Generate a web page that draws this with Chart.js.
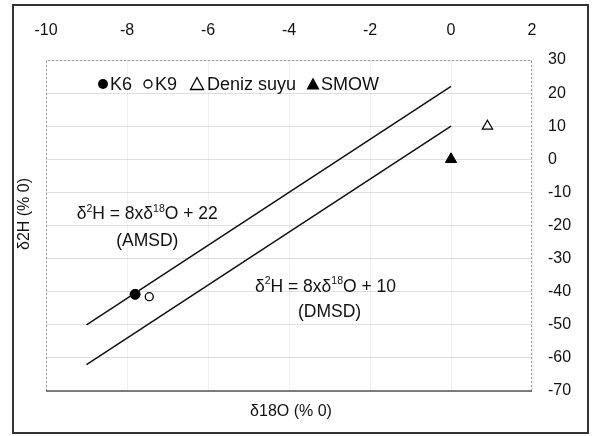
<!DOCTYPE html>
<html>
<head>
<meta charset="utf-8">
<script src="https://cdn.jsdelivr.net/npm/chart.js@4.4.1/dist/chart.umd.min.js"></script>
<style>
  html, body { margin: 0; padding: 0; background: #fff; }
  #wrap { width: 594px; height: 436px; }
</style>
</head>
<body>
<div id="wrap"><canvas id="grafik" width="594" height="436"></canvas></div>
<script>
// eksenler
const xMin = -10, xMax = 2, xStep = 2;
const yMin = -70, yMax = 30, yStep = 10;

// meteorik su dogrulari (iki uc nokta)
const lineX = [-9, 0];
const amsdY = [-50, 22];
const dmsdY = [-62, 10];

// ornekler
const k6 = [{ x: -7.8, y: -40.8 }];
const k9 = [{ x: -7.45, y: -41.5 }];
const denizSuyu = [{ x: 0.9, y: 10 }];
const smow = [{ x: 0, y: 0 }];

const FONT = "'Liberation Sans', Arial, sans-serif";

const toPts = (xs, ys) => xs.map((x, i) => ({ x: x, y: ys[i] }));

// legend icinde: sembol + yazi
const legendItems = [
  { sym: 'dot', text: 'K6', sx: 103, tx: 110 },
  { sym: 'ring', text: 'K9', sx: 148, tx: 155 },
  { sym: 'tri', text: 'Deniz suyu', sx: 197, tx: 207 },
  { sym: 'triFill', text: 'SMOW', sx: 313, tx: 321 }
];

function symbol(ctx, kind, x, y) {
  ctx.save();
  ctx.lineWidth = 1.3;
  ctx.strokeStyle = '#000';
  ctx.fillStyle = '#000';
  ctx.beginPath();
  if (kind === 'dot' || kind === 'ring') {
    ctx.arc(x, y, kind === 'dot' ? 5 : 4, 0, Math.PI * 2);
  } else {
    ctx.moveTo(x, y - 6.5);
    ctx.lineTo(x + 6.5, y + 5.5);
    ctx.lineTo(x - 6.5, y + 5.5);
    ctx.closePath();
  }
  if (kind === 'dot' || kind === 'triFill') ctx.fill(); else ctx.stroke();
  ctx.restore();
}

// superscript destekli yazi: parcalar [metin, ust?]
function richText(ctx, parts, cx, cy, size) {
  ctx.save();
  ctx.textBaseline = 'middle';
  ctx.fillStyle = '#111';
  let w = 0;
  parts.forEach(p => {
    ctx.font = (p[1] ? size * 0.6 : size) + 'px ' + FONT;
    w += ctx.measureText(p[0]).width;
  });
  let x = cx - w / 2;
  parts.forEach(p => {
    ctx.font = (p[1] ? size * 0.6 : size) + 'px ' + FONT;
    ctx.fillText(p[0], x, p[1] ? cy - size * 0.3 : cy);
    x += ctx.measureText(p[0]).width;
  });
  ctx.restore();
}

const ekler = {
  id: 'ekler',
  beforeDatasetsDraw(chart) {
    const { ctx, chartArea: a } = chart;
    ctx.save();
    // grafik kutusu
    ctx.strokeStyle = '#999';
    ctx.lineWidth = 1;
    ctx.setLineDash([2, 2]);
    ctx.beginPath();
    ctx.moveTo(a.left + 0.5, a.bottom);
    ctx.lineTo(a.left + 0.5, a.top + 0.5);
    ctx.lineTo(a.right - 0.5, a.top + 0.5);
    ctx.lineTo(a.right - 0.5, a.bottom);
    ctx.stroke();
    ctx.setLineDash([]);
    ctx.strokeStyle = '#555';
    ctx.lineWidth = 1.5;
    ctx.beginPath();
    ctx.moveTo(a.left, a.bottom);
    ctx.lineTo(a.right, a.bottom);
    ctx.stroke();
    ctx.restore();
  },
  afterDraw(chart) {
    const { ctx } = chart;
    const sx = chart.scales.x, sy = chart.scales.y;
    ctx.save();
    // dis cerceve
    ctx.strokeStyle = '#333';
    ctx.lineWidth = 2;
    ctx.strokeRect(13, 5, 575, 428);

    // eksen basliklari
    ctx.fillStyle = '#111';
    ctx.font = '16px ' + FONT;
    ctx.textAlign = 'center';
    ctx.textBaseline = 'middle';
    ctx.fillText('\u03b418O (% 0)', 291, 412);
    ctx.save();
    ctx.translate(25, 214);
    ctx.rotate(-Math.PI / 2);
    ctx.fillText('\u03b42H (% 0)', 0, 0);
    ctx.restore();

    // lejant
    ctx.font = '18px ' + FONT;
    ctx.textAlign = 'left';
    legendItems.forEach(it => {
      symbol(ctx, it.sym, it.sx, 84);
      ctx.fillStyle = '#111';
      ctx.fillText(it.text, it.tx, 85);
    });

    // denklemler
    const eq = (c) => [['\u03b4', 0], ['2', 1], ['H = 8x\u03b4', 0], ['18', 1], ['O + ' + c, 0]];
    richText(ctx, eq(22), sx.getPixelForValue(-7.5), sy.getPixelForValue(-16.5), 17.5);
    richText(ctx, [['(AMSD)', 0]], sx.getPixelForValue(-7.5), sy.getPixelForValue(-24.8), 17.5);
    richText(ctx, eq(10), sx.getPixelForValue(-3.1), sy.getPixelForValue(-38.5), 17.5);
    richText(ctx, [['(DMSD)', 0]], sx.getPixelForValue(-3.0), sy.getPixelForValue(-46.3), 17.5);
    ctx.restore();
  }
};

new Chart(document.getElementById('grafik'), {
  type: 'scatter',
  data: {
    datasets: [
      { label: 'AMSD', data: toPts(lineX, amsdY), showLine: true, borderColor: '#111', borderWidth: 1.5, pointRadius: 0 },
      { label: 'DMSD', data: toPts(lineX, dmsdY), showLine: true, borderColor: '#111', borderWidth: 1.5, pointRadius: 0 },
      { label: 'K6', data: k6, pointStyle: 'circle', pointRadius: 5, backgroundColor: '#000', borderColor: '#000' },
      { label: 'K9', data: k9, pointStyle: 'circle', pointRadius: 4, backgroundColor: '#fff', borderColor: '#000', borderWidth: 1.3 },
      { label: 'Deniz suyu', data: denizSuyu, pointStyle: 'triangle', pointRadius: 6, backgroundColor: '#fff', borderColor: '#000', borderWidth: 1.2 },
      { label: 'SMOW', data: smow, pointStyle: 'triangle', pointRadius: 6.5, backgroundColor: '#000', borderColor: '#000' }
    ]
  },
  options: {
    responsive: false,
    animation: false,
    layout: { padding: { left: 46, right: 12, top: 0, bottom: 45 } },
    plugins: { legend: { display: false }, tooltip: { enabled: false } },
    scales: {
      x: {
        type: 'linear', position: 'top', min: xMin, max: xMax,
        ticks: { stepSize: xStep, color: '#111', font: { family: FONT, size: 16 }, padding: 20, maxRotation: 0 },
        grid: { color: 'rgba(0,0,0,0.06)', drawTicks: false },
        border: { display: false },
        afterFit(s) { s.height = 60; }
      },
      y: {
        type: 'linear', position: 'right', min: yMin, max: yMax,
        ticks: { stepSize: yStep, color: '#111', font: { family: FONT, size: 16 }, padding: 16 },
        grid: { color: 'rgba(0,0,0,0.12)', drawTicks: false },
        border: { display: false },
        afterFit(s) { s.width = 50; }
      }
    }
  },
  plugins: [ekler]
});
</script>
</body>
</html>
